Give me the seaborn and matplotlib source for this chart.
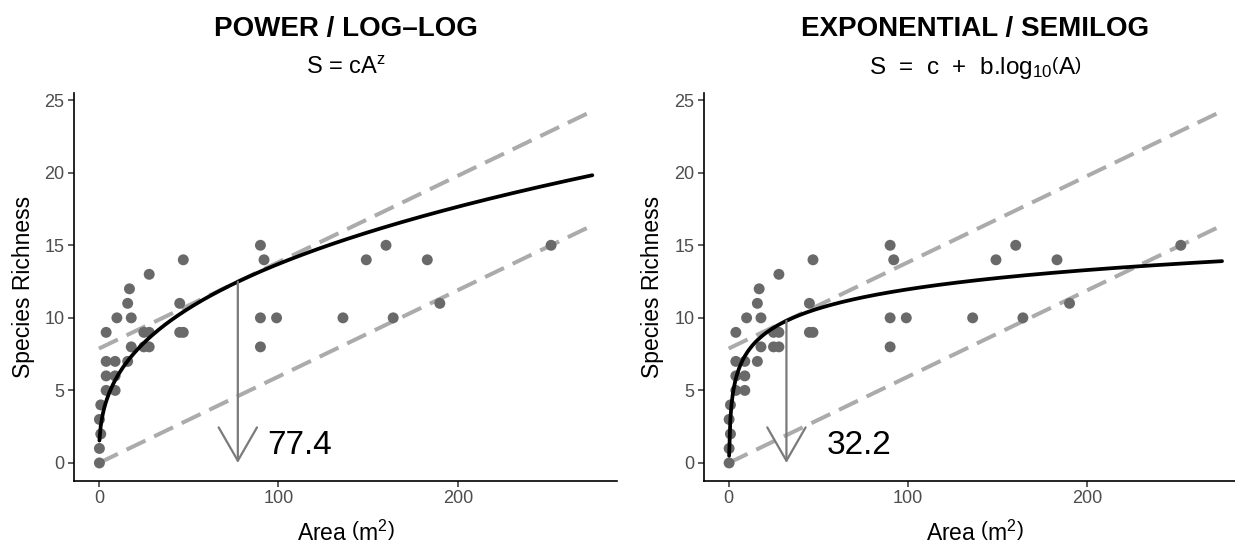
import numpy as np
import pandas as pd
import matplotlib
matplotlib.use("Agg")
import matplotlib.pyplot as plt
import seaborn as sns

# Quadrat survey: sampled area (m^2) and species counted
area = [0.25, 0.25, 1, 0.25, 1, 4, 4, 4, 4, 9, 9, 9, 10, 16, 16, 17, 18, 18,
        25, 25, 28, 28, 28, 45, 45, 47, 47, 90, 90, 90, 92, 99,
        136, 149, 160, 164, 183, 190, 252]
richness = [0, 1, 2, 3, 4, 5, 6, 7, 9, 5, 6, 7, 10, 11, 7, 12, 10, 8,
            9, 8, 9, 8, 13, 11, 9, 9, 14, 15, 10, 8, 14, 10,
            10, 14, 15, 10, 14, 11, 15]

# Fitted model parameters
power_c, power_z = 2.558, 0.3646          # S = c * A^z
semilog_c, semilog_b = 3.15, 4.41         # S = c + b * log10(A)

# Area where each curve runs parallel to the max-richness/max-area line
tangent_area = [77.4, 32.2]
label_x = [112.0, 72.5]

panel_titles = ["POWER / LOG\u2013LOG", "EXPONENTIAL / SEMILOG"]
panel_formulas = [r"S = cA$^{\mathrm{z}}$",
                  r"S  =  c  +  b.log$_{\mathrm{10}}\left(\mathrm{A}\right)$"]
formula_sizes = [17, 17.5]

area_end = 275.0

sns.set_theme(style="ticks")
plt.rcParams["font.family"] = ["Liberation Sans", "DejaVu Sans"]
plt.rcParams["text.color"] = "black"
plt.rcParams["axes.labelcolor"] = "black"
plt.rcParams["mathtext.fontset"] = "custom"
plt.rcParams["mathtext.rm"] = "Liberation Sans"
plt.rcParams["mathtext.it"] = "Liberation Sans:italic"
plt.rcParams["mathtext.bf"] = "Liberation Sans:bold"

df = pd.DataFrame({"area": area, "richness": richness})
slope = df["richness"].max() / df["area"].max()


def power_fn(a):
    return power_c * np.power(a, power_z)


def semilog_fn(a):
    return semilog_c + semilog_b * np.log10(a)


models = [power_fn, semilog_fn]

fig = plt.figure(figsize=(12.35, 5.45), dpi=100)
W, H = 1235.0, 545.0
ax_w = (617 - 74.3) / W
ax_bottom = 1 - 480.6 / H
ax_h = (480.6 - 92.7) / H
lefts = [74.3 / W, 704.0 / W]

grid = np.linspace(min(area), area_end, 400)
line_x = np.array([0.0, area_end])

for i, fn in enumerate(models):
    ax = fig.add_axes([lefts[i], ax_bottom, ax_w, ax_h])
    a_star = tangent_area[i]
    s_star = fn(a_star)

    # parallel reference lines: through the origin and tangent to the curve
    lower = pd.DataFrame({"x": line_x, "y": slope * line_x})
    upper = pd.DataFrame({"x": line_x, "y": s_star + slope * (line_x - a_star)})
    for ref in (lower, upper):
        sns.lineplot(data=ref, x="x", y="y", ax=ax, color="#ABABAB",
                     linewidth=2.9, dashes=False, zorder=2)
        ax.lines[-1].set_dashes((5.2, 2.4))

    sns.scatterplot(data=df, x="area", y="richness", ax=ax, color="#696969",
                    s=62, edgecolor="none", linewidth=0, zorder=3)

    curve = pd.DataFrame({"x": grid, "y": fn(grid)})
    sns.lineplot(data=curve, x="x", y="y", ax=ax, color="black",
                 linewidth=2.7, zorder=4)

    ax.annotate("", xy=(a_star, 0), xytext=(a_star, s_star),
                arrowprops=dict(arrowstyle="->,head_length=2.0,head_width=1.15",
                                color="#7A7A7A", lw=1.6,
                                shrinkA=0, shrinkB=0),
                zorder=5)
    ax.text(label_x[i], 0.62, f"{a_star:.1f}", fontsize=24, ha="center",
            va="baseline", color="black")

    ax.set_xlim(-13.75, 288.75)
    ax.set_ylim(-1.215, 25.515)
    ax.set_xticks([0, 100, 200])
    ax.set_yticks([0, 5, 10, 15, 20, 25])
    ax.tick_params(axis="both", length=4, width=1.1, color="#333333",
                   labelsize=13, labelcolor="#4D4D4D", pad=3)
    for side in ("left", "bottom"):
        ax.spines[side].set_linewidth(1.2)
        ax.spines[side].set_color("black")
    sns.despine(ax=ax)
    ax.set_xlabel(r"Area $\left(\mathrm{m}^{\mathrm{2}}\right)$",
                  fontsize=16.5, labelpad=9.5)
    ax.set_ylabel("Species Richness", fontsize=16.5, labelpad=7)

    cx = lefts[i] + ax_w / 2
    fig.text(cx, 1 - 36 / H, panel_titles[i], ha="center", va="baseline",
             fontsize=20, fontweight="bold")
    fig.text(cx, 1 - 74 / H, panel_formulas[i], ha="center", va="baseline",
             fontsize=formula_sizes[i])

fig.savefig("out.png", dpi=100, facecolor="white")
